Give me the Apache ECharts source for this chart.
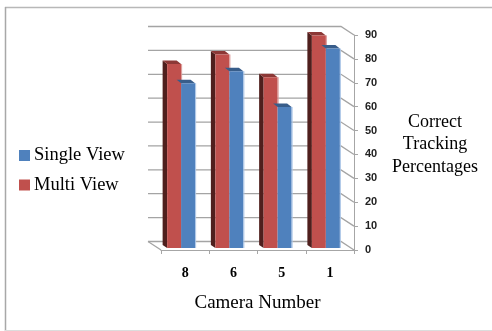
<!DOCTYPE html>
<html>
<head>
<meta charset="utf-8">
<style>html,body{margin:0;padding:0;background:#fff}#chart{width:492px;height:331px}</style>
<script src="https://cdn.jsdelivr.net/npm/echarts@6/dist/echarts.min.js"></script>
</head>
<body>
<div id="chart"></div>
<script>
const cameraNumbers = ['8', '6', '5', '1'];
const multiView = [77, 81, 71.5, 89];
const singleView = [69, 74, 59, 83.5];
const valueTicks = { min: 0, max: 90, interval: 10 };

const serifFont = '"Liberation Serif", "Times New Roman", serif';

// Depth of the 3D box: the back wall sits up and to the left of the front plane.
const wallDx = -13, wallDy = -8.5;
// Bars stand slightly behind the front plane; their top face recedes a little further.
const barLift = -2, topDx = -4.5, topDy = -3.5;

const palette = {
  multi: { front: '#c0504d', top: '#8c3836', side: '#4f1f1d', edge: '#d99694' },
  single: { front: '#4f81bd', top: '#385d8a', side: '#2c4d75', edge: '#a9c4e6' }
};

const tickValues = [];
for (let v = valueTicks.min; v <= valueTicks.max; v += valueTicks.interval) tickValues.push(v);

// Draws one pseudo-3D column from band offsets relative to the category centre.
function columnRenderer(colors, fromOff, toOff, showSide) {
  return function (params, api) {
    const base = api.coord([api.value(0), 0]);
    const top = api.coord([api.value(0), api.value(1)]);
    const x0 = base[0] + fromOff, x1 = base[0] + toOff;
    const yT = top[1] + barLift, yB = base[1] + barLift;
    const children = [];
    if (showSide) {
      children.push({
        type: 'polygon',
        shape: { points: [[x0, yT], [x0 + topDx, yT + topDy], [x0 + topDx, yB - 3], [x0, yB]] },
        style: { fill: colors.side }
      });
    }
    children.push({
      type: 'polygon',
      shape: { points: [[x0, yT], [x0 + topDx, yT + topDy], [x1 + topDx, yT + topDy], [x1, yT]] },
      style: { fill: colors.top }
    });
    children.push({
      type: 'rect',
      shape: { x: x0, y: yT, width: x1 - x0, height: yB - yT },
      style: { fill: colors.front }
    });
    children.push({
      type: 'line',
      shape: { x1: x1 + 0.5, y1: yT, x2: x1 + 0.5, y2: yB },
      style: { stroke: colors.edge, lineWidth: 1 }
    });
    return { type: 'group', children };
  };
}

// Back-wall gridlines, the diagonals joining them to the front axis, and the left floor edge.
function wallRenderer(params, api) {
  const cs = params.coordSys;
  const right = cs.x + cs.width;
  const lineStyle = { fill: null, stroke: '#a4a4a4', lineWidth: 1.3 };
  const children = [];
  tickValues.forEach(function (value) {
    const y = api.coord([0, value])[1];
    children.push({
      type: 'polyline',
      shape: { points: [[cs.x + wallDx, y + wallDy], [right + wallDx, y + wallDy], [right, y]] },
      style: lineStyle
    });
  });
  const floorY = api.coord([0, 0])[1];
  children.push({
    type: 'polyline',
    shape: { points: [[cs.x, floorY], [cs.x + wallDx, floorY + wallDy]] },
    style: lineStyle
  });
  return { type: 'group', children };
}

const chart = echarts.init(document.getElementById('chart'), null, { renderer: 'canvas' });
chart.setOption({
  animation: false,
  backgroundColor: '#ffffff',
  textStyle: { fontFamily: serifFont },
  legend: {
    orient: 'vertical',
    left: 14,
    top: 141,
    itemWidth: 11,
    itemHeight: 11,
    itemGap: 10.5,
    selectedMode: false,
    data: [
      { name: 'Single View', icon: 'rect', itemStyle: { color: palette.single.front } },
      { name: 'Multi View', icon: 'rect', itemStyle: { color: palette.multi.front } }
    ],
    textStyle: { fontFamily: serifFont, fontSize: 18.5, color: '#000', padding: [0, 0, 0, -1] }
  },
  grid: { left: 161, top: 35, width: 193, height: 215 },
  xAxis: {
    type: 'category',
    data: cameraNumbers,
    axisLine: { lineStyle: { color: '#a6a6a6' } },
    axisTick: { show: true, alignWithLabel: false, length: 4, lineStyle: { color: '#a6a6a6' } },
    axisLabel: { margin: 16, fontFamily: serifFont, fontWeight: 'bold', fontSize: 14, color: '#000' },
    name: 'Camera Number',
    nameLocation: 'middle',
    nameGap: 44,
    nameTextStyle: { fontFamily: serifFont, fontSize: 19, color: '#000' }
  },
  yAxis: {
    type: 'value',
    position: 'right',
    min: valueTicks.min,
    max: valueTicks.max,
    interval: valueTicks.interval,
    splitLine: { show: false },
    axisLine: { show: true, lineStyle: { color: '#a6a6a6' } },
    axisTick: { show: true, length: 4, lineStyle: { color: '#a6a6a6' } },
    axisLabel: { margin: 11, fontFamily: '"Liberation Sans", Arial, sans-serif', fontWeight: 'bold', fontSize: 11, color: '#222' }
  },
  graphic: [
    {
      type: 'line', silent: true,
      shape: { x1: 5, y1: 7.5, x2: 492, y2: 7.5 },
      style: { stroke: '#b8b8b8', lineWidth: 1.5 }
    },
    {
      type: 'line', silent: true,
      shape: { x1: 5.5, y1: 7, x2: 5.5, y2: 331 },
      style: { stroke: '#a8a8a8', lineWidth: 1.5 }
    },
    {
      type: 'line', silent: true,
      shape: { x1: 5, y1: 330.5, x2: 492, y2: 330.5 },
      style: { stroke: '#dcdcdc', lineWidth: 1 }
    },
    {
      type: 'text',
      silent: true,
      x: 435,
      y: 111,
      style: {
        text: 'Correct\nTracking\nPercentages',
        align: 'center',
        verticalAlign: 'top',
        fontFamily: serifFont,
        fontSize: 18,
        lineHeight: 22.5,
        fill: '#000'
      }
    }
  ],
  series: [
    {
      type: 'custom',
      coordinateSystem: 'cartesian2d',
      z: 2,
      silent: true,
      renderItem: wallRenderer,
      encode: { x: 0, y: 1 },
      data: [[0, 0]]
    },
    {
      type: 'custom',
      name: 'Multi View',
      z: 3,
      silent: true,
      renderItem: columnRenderer(palette.multi, -18, -4, true),
      encode: { x: 0, y: 1 },
      data: multiView.map((v, i) => [i, v])
    },
    {
      type: 'custom',
      name: 'Single View',
      z: 4,
      silent: true,
      renderItem: columnRenderer(palette.single, -4, 10, false),
      encode: { x: 0, y: 1 },
      data: singleView.map((v, i) => [i, v])
    }
  ]
});
</script>
</body>
</html>
